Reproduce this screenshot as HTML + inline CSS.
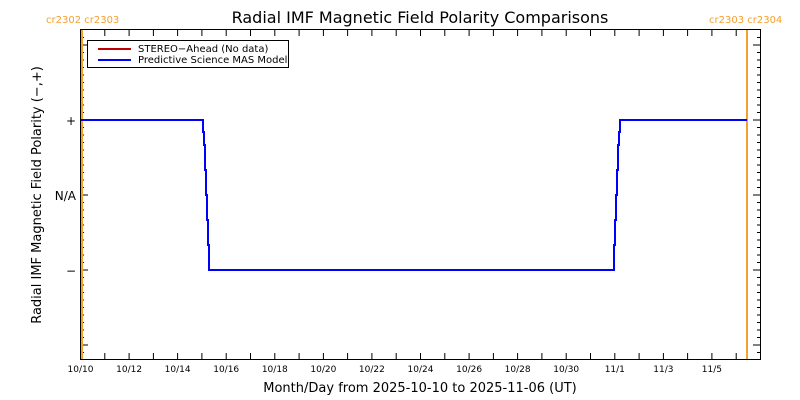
<!DOCTYPE html><html><head><style>body{margin:0;background:#fff}svg{display:block;font-family:"DejaVu Sans","Liberation Sans",sans-serif}</style></head><body>
<svg width="800" height="400" xmlns="http://www.w3.org/2000/svg">
<rect width="800" height="400" fill="#fff"/>
<text x="420" y="23" font-size="16" text-anchor="middle">Radial IMF Magnetic Field Polarity Comparisons</text>
<text x="46" y="23" font-size="10" fill="#f5a030">cr2302 cr2303</text>
<text x="709" y="23" font-size="10" fill="#f5a030">cr2303 cr2304</text>
<rect x="80.5" y="29.5" width="680" height="330" fill="none" stroke="#000"/>
<g stroke="#000" stroke-width="1" fill="none">
<path d="M104.8 359v-6M129.1 359v-6M153.4 359v-6M177.6 359v-6M201.9 359v-6M226.2 359v-6M250.5 359v-6M274.8 359v-6M299.1 359v-6M323.4 359v-6M347.6 359v-6M371.9 359v-6M396.2 359v-6M420.5 359v-6M444.8 359v-6M469.1 359v-6M493.4 359v-6M517.6 359v-6M541.9 359v-6M566.2 359v-6M590.5 359v-6M614.8 359v-6M639.1 359v-6M663.4 359v-6M687.6 359v-6M711.9 359v-6M736.2 359v-6"/>
<path d="M104.8 30v6M129.1 30v6M153.4 30v6M177.6 30v6M201.9 30v6M226.2 30v6M250.5 30v6M274.8 30v6M299.1 30v6M323.4 30v6M347.6 30v6M371.9 30v6M396.2 30v6M420.5 30v6M444.8 30v6M469.1 30v6M493.4 30v6M517.6 30v6M541.9 30v6M566.2 30v6M590.5 30v6M614.8 30v6M639.1 30v6M663.4 30v6M687.6 30v6M711.9 30v6M736.2 30v6"/>
<path d="M80 37.5h4M80 45h4M80 52.5h4M80 60h4M80 67.5h4M80 75h4M80 82.5h4M80 90h4M80 97.5h4M80 105h4M80 112.5h4M80 120h4M80 127.5h4M80 135h4M80 142.5h4M80 150h4M80 157.5h4M80 165h4M80 172.5h4M80 180h4M80 187.5h4M80 195h4M80 202.5h4M80 210h4M80 217.5h4M80 225h4M80 232.5h4M80 240h4M80 247.5h4M80 255h4M80 262.5h4M80 270h4M80 277.5h4M80 285h4M80 292.5h4M80 300h4M80 307.5h4M80 315h4M80 322.5h4M80 330h4M80 337.5h4M80 345h4M80 352.5h4"/>
<path d="M761 37.5h-4M761 45h-4M761 52.5h-4M761 60h-4M761 67.5h-4M761 75h-4M761 82.5h-4M761 90h-4M761 97.5h-4M761 105h-4M761 112.5h-4M761 120h-4M761 127.5h-4M761 135h-4M761 142.5h-4M761 150h-4M761 157.5h-4M761 165h-4M761 172.5h-4M761 180h-4M761 187.5h-4M761 195h-4M761 202.5h-4M761 210h-4M761 217.5h-4M761 225h-4M761 232.5h-4M761 240h-4M761 247.5h-4M761 255h-4M761 262.5h-4M761 270h-4M761 277.5h-4M761 285h-4M761 292.5h-4M761 300h-4M761 307.5h-4M761 315h-4M761 322.5h-4M761 330h-4M761 337.5h-4M761 345h-4M761 352.5h-4"/>
<path d="M80 45h8M80 120h8M80 195h8M80 270h8M80 345h8M761 45h-8M761 120h-8M761 195h-8M761 270h-8M761 345h-8"/>
</g>
<line x1="82" y1="30" x2="82" y2="359" stroke="#f5a030" stroke-width="2"/>
<line x1="747" y1="30" x2="747" y2="359" stroke="#f5a030" stroke-width="2"/>
<path d="M81 120 H203 V132 H204 V145 H205 V170 H206 V195 H207 V220 H208 V245 H209 V270 H614 V245 H615 V220 H616 V195 H617 V170 H618 V145 H619 V132 H620 V120 H747" stroke="#0000ff" stroke-width="2" fill="none"/>
<rect x="87.5" y="40.5" width="201" height="27" fill="#fff" stroke="#000"/>
<line x1="98" y1="49" x2="131" y2="49" stroke="#c00000" stroke-width="2"/>
<line x1="98" y1="60" x2="131" y2="60" stroke="#0000ff" stroke-width="2"/>
<text x="138" y="52" font-size="10">STEREO−Ahead (No data)</text>
<text x="138" y="63" font-size="10">Predictive Science MAS Model</text>
<g font-size="12" text-anchor="end">
<text x="76" y="125">+</text><text x="76" y="200">N/A</text><text x="76" y="275">−</text>
</g>
<text transform="translate(41 195) rotate(-90)" font-size="13" text-anchor="middle">Radial IMF Magnetic Field Polarity (−,+)</text>
<text x="420" y="392" font-size="13" text-anchor="middle">Month/Day from 2025-10-10 to 2025-11-06 (UT)</text>
<g font-size="9" text-anchor="middle">
<text x="80.5" y="372">10/10</text><text x="129.1" y="372">10/12</text><text x="177.6" y="372">10/14</text><text x="226.2" y="372">10/16</text><text x="274.8" y="372">10/18</text><text x="323.4" y="372">10/20</text><text x="371.9" y="372">10/22</text><text x="420.5" y="372">10/24</text><text x="469.1" y="372">10/26</text><text x="517.6" y="372">10/28</text><text x="566.2" y="372">10/30</text><text x="614.8" y="372">11/1</text><text x="663.4" y="372">11/3</text><text x="711.9" y="372">11/5</text>
</g>
</svg></body></html>
